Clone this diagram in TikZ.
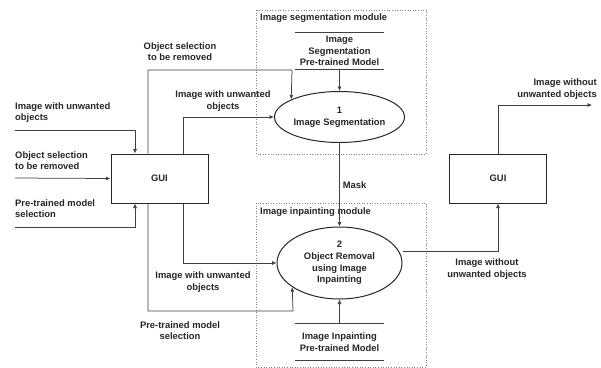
\documentclass[tikz,border=0pt]{standalone}
\usepackage{fontspec}
\setmainfont{Liberation Sans}
\usetikzlibrary{arrows.meta,shapes.geometric,calc}
\begin{document}
\begin{tikzpicture}[x=1pt,y=-1pt,
  every node/.style={font=\fontsize{9.4}{11.6}\selectfont\bfseries, text=black!85, inner sep=0pt},
  line/.style={draw=black!75, line width=0.75pt},
  arr/.style={line, -{Latex[length=4.5pt,width=4pt]}},
  guibox/.style={draw=black!85, line width=1pt, minimum width=97pt, minimum height=49pt},
  proc/.style={ellipse, draw=black!85, line width=1pt, minimum width=125pt, align=center},
  store/.style={minimum width=89pt, align=center},
  modbox/.style={draw=black!50, dotted, line width=0.6pt},
  lbl/.style={align=center},
  lbll/.style={align=left, anchor=west},
  lblr/.style={align=right, anchor=east}]
\fill[white] (0,0) rectangle (601,367);
\useasboundingbox (0,0) rectangle (601,367);

% module boxes
\draw[modbox] (256,10) rectangle (426,154);
\draw[modbox] (256,203) rectangle (426,367);
\node[anchor=west] (segmod) at (260,18) {Image segmentation module};
\node[anchor=west] (inpmod) at (260,212) {Image inpainting module};

% GUI boxes
\node[guibox] (gui1) at (159.5,178.5) {GUI};
\node[guibox] (gui2) at (498,178.5) {GUI};

% processes
\node[proc, minimum height=51pt] (e1) at (339.5,117) {1\\Image Segmentation};
\node[proc, minimum height=72pt] (e2) at (339.5,263) {2\\Object Removal\\using Image\\Inpainting};

% data stores
\node[store, minimum height=36pt] (ds1) at (339.5,51) {Image\\Segmentation\\Pre-trained Model};
\draw[line] (ds1.north west) -- (ds1.north east) (ds1.south west) -- (ds1.south east);
\node[store, minimum height=36pt] (ds2) at (339.5,342) {Image Inpainting\\Pre-trained Model};
\draw[line] (ds2.north west) -- (ds2.north east) (ds2.south west) -- (ds2.south east);

\draw[arr] (ds1.south) -- (e1.north);
\draw[arr] (ds2.north) -- (e2.south);
\draw[arr] (e1.south) -- node[pos=0.5, anchor=west, xshift=3pt] (mask) {Mask} (e2.north);

% inputs to GUI
\coordinate (in1) at (15,130);
\coordinate (in2) at (15,178);
\coordinate (in3) at (15,227);
\node[lbll] (t1) at (15,112.5) {Image with unwanted\\objects};
\node[lbll] (t2) at (15,160.5) {Object selection\\to be removed};
\node[lbll] (t3) at (15,208.5) {Pre-trained model\\selection};
\draw[arr] (in1) -| ([xshift=-24.5pt]gui1.north);
\draw[arr] (in2) -- (gui1.west);
\draw[arr] (in3) -| ([xshift=-24.5pt]gui1.south);

% GUI to segmentation
\coordinate (c1) at (292,70);
\draw[arr] ([xshift=-11.5pt]gui1.north) |- (c1) -- (e1.160.7);
\node[lbl] (t4) at (180,51.5) {Object selection\\to be removed};
\draw[arr] ([xshift=23.5pt]gui1.north) |- (e1.west);
\node[lbl] (t5) at (223,101) {Image with unwanted\\objects};

% GUI to inpainting
\draw[arr] ([xshift=23.5pt]gui1.south) |- (e2.west);
\node[lbl] (t6) at (203,282) {Image with unwanted\\objects};
\coordinate (c2) at (293,311);
\draw[arr] ([xshift=-11.5pt]gui1.south) |- (c2) -- (e2.207.4);
\node[lbl] (t7) at (180,330.5) {Pre-trained model\\selection};

% output
\draw[arr] (e2.east |- 0,251) -| (gui2.south);
\node[lbl] (t8) at (487,269) {Image without\\unwanted objects};
\coordinate (out) at (592,105);
\draw[arr] (gui2.north) |- (out);
\node[lblr] (t9) at (597,89) {Image without\\unwanted objects};
\end{tikzpicture}
\end{document}
